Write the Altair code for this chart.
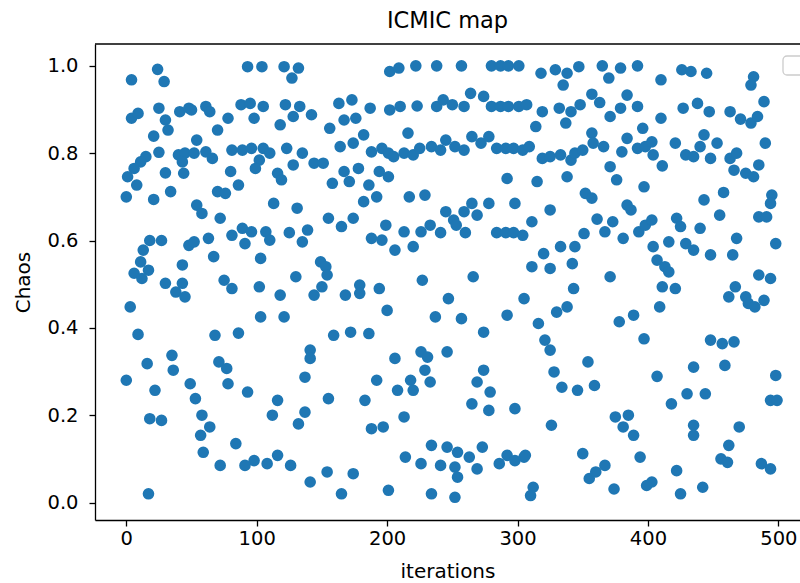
import altair as alt
import pandas as pd

# ICMIC chaotic map: iteration index and the value reached at that step
iterations = [
    4, 24, 29, 4, 9, 25, 30, 32, 21, 25, 15, 11, 6, 1, 8, 30, 0, 21, 34, 18, 27, 13, 11, 17, 6, 12, 30, 3, 9, 35, 36, 16, 0, 22, 18, 27, 17,
    41, 48, 50, 61, 64, 78, 88, 70, 54, 40, 45, 52, 43, 61, 66, 81, 89, 44, 80, 86, 70, 76, 54, 58, 72, 89, 81, 48, 52, 63, 67, 43, 43, 38, 45, 75, 81, 68, 86, 71, 77, 78, 49, 53, 58, 64, 57, 59, 84, 72,
    95, 104, 93, 121, 132, 127, 105, 98, 122, 133, 128, 118, 142, 96, 105, 110, 102, 99, 123, 135, 128, 144, 116, 119, 113, 131, 96, 91, 107, 110, 125, 139, 135, 103, 130, 102, 118, 103, 121, 141, 141, 137, 93, 116, 112, 137, 132, 98, 91, 108, 116, 126, 141,
    163, 173, 187, 156, 167, 176, 164, 174, 182, 188, 196, 201, 151, 167, 178, 158, 171, 186, 194, 192, 182, 155, 165, 174, 188, 196, 199, 149, 153, 154, 150, 144, 168, 179, 179, 194, 200, 159, 172, 186, 192, 155, 183, 188, 197, 154, 174, 165,
    202, 209, 222, 238, 202, 210, 223, 238, 243, 250, 216, 205, 213, 220, 225, 234, 241, 245, 252, 201, 217, 229, 206, 213, 220, 226, 233, 241, 245, 251, 253, 227, 237, 247, 206, 226, 231, 229, 233, 246, 208, 218, 220, 213, 234, 246, 254, 252, 214, 226, 241, 201, 234, 252,
    257, 280, 287, 293, 301, 259, 264, 274, 280, 287, 293, 301, 307, 259, 265, 272, 278, 284, 291, 297, 304, 309, 292, 265, 278, 269, 259, 260, 298, 284, 291, 297, 304, 266, 305, 257, 274, 292, 274, 269, 279, 265, 278, 298, 263, 269, 254, 273, 286, 292, 298, 305,
    318, 329, 338, 347, 335, 319, 314, 332, 341, 348, 337, 357, 363, 357, 319, 325, 333, 341, 344, 350, 358, 315, 338, 352, 357, 325, 311, 361, 351, 320, 333, 344, 342, 311, 325, 343, 330, 338, 316, 321, 325, 354, 328, 334, 346, 359, 326, 306, 350, 355, 360, 312, 310,
    365, 370, 379, 392, 410, 371, 379, 384, 392, 410, 366, 380, 384, 392, 398, 403, 404, 411, 396, 371, 376, 397, 384, 387, 373, 367, 381, 393, 398, 403, 404, 407, 413, 416, 416, 371, 411, 409, 378, 389, 397, 407, 418, 375, 385, 381, 389, 394, 367, 374, 403, 399,
    426, 433, 445, 427, 438, 447, 463, 471, 421, 429, 435, 440, 443, 453, 448, 463, 468, 466, 443, 458, 455, 422, 425, 440, 468, 429, 435, 448, 465, 421, 462, 467, 448, 457, 466, 435, 459, 430, 444, 435, 435, 470, 462, 456, 461, 422, 425, 442,
    481, 479, 489, 479, 484, 490, 475, 481, 485, 495, 494, 485, 491, 498, 485, 494, 475, 477, 482, 489, 498, 494, 499, 487, 494,
]

chaos = [
    0.968, 0.992, 0.964, 0.88, 0.891, 0.903, 0.876, 0.853, 0.839, 0.802, 0.792, 0.78, 0.765, 0.746, 0.727, 0.755, 0.70, 0.694, 0.712, 0.60, 0.60, 0.578, 0.551, 0.532, 0.525, 0.513, 0.502, 0.448, 0.385, 0.337, 0.303, 0.318, 0.28, 0.257, 0.192, 0.188, 0.02,
    0.895, 0.903, 0.899, 0.907, 0.895, 0.88, 0.911, 0.853, 0.83, 0.796, 0.80, 0.80, 0.78, 0.803, 0.788, 0.807, 0.807, 0.754, 0.758, 0.727, 0.712, 0.708, 0.681, 0.662, 0.651, 0.628, 0.612, 0.589, 0.597, 0.605, 0.563, 0.544, 0.502, 0.482, 0.471, 0.509, 0.49, 0.383, 0.388, 0.322, 0.307, 0.272, 0.272, 0.238, 0.2, 0.173, 0.154, 0.115, 0.135, 0.085,
    0.914, 0.998, 0.998, 0.998, 0.995, 0.972, 0.907, 0.88, 0.911, 0.907, 0.884, 0.865, 0.888, 0.811, 0.811, 0.80, 0.784, 0.765, 0.811, 0.80, 0.773, 0.777, 0.754, 0.739, 0.685, 0.674, 0.62, 0.593, 0.62, 0.601, 0.618, 0.624, 0.597, 0.559, 0.517, 0.494, 0.475, 0.425, 0.425, 0.349, 0.33, 0.287, 0.253, 0.234, 0.2, 0.207, 0.18, 0.096, 0.085, 0.089, 0.108, 0.085, 0.047,
    0.914, 0.922, 0.903, 0.857, 0.876, 0.88, 0.815, 0.823, 0.842, 0.803, 0.811, 0.80, 0.777, 0.758, 0.765, 0.731, 0.735, 0.727, 0.758, 0.70, 0.689, 0.651, 0.632, 0.651, 0.605, 0.601, 0.635, 0.551, 0.54, 0.521, 0.494, 0.475, 0.475, 0.498, 0.479, 0.49, 0.44, 0.383, 0.39, 0.387, 0.28, 0.238, 0.234, 0.169, 0.173, 0.07, 0.066, 0.02,
    0.987, 0.995, 1.0, 1.0, 0.899, 0.907, 0.908, 0.907, 0.922, 0.911, 0.846, 0.792, 0.80, 0.796, 0.811, 0.815, 0.807, 0.83, 0.815, 0.746, 0.70, 0.704, 0.578, 0.62, 0.586, 0.62, 0.635, 0.618, 0.666, 0.647, 0.635, 0.509, 0.425, 0.467, 0.33, 0.345, 0.333, 0.303, 0.276, 0.345, 0.257, 0.28, 0.257, 0.196, 0.131, 0.127, 0.115, 0.081, 0.104, 0.089, 0.085, 0.028, 0.02, 0.012,
    1.0, 1.0, 1.0, 1.0, 1.0, 0.907, 0.937, 0.93, 0.907, 0.907, 0.907, 0.907, 0.911, 0.807, 0.838, 0.823, 0.838, 0.811, 0.811, 0.811, 0.807, 0.815, 0.742, 0.685, 0.685, 0.658, 0.666, 0.618, 0.685, 0.618, 0.618, 0.618, 0.612, 0.517, 0.467, 0.421, 0.39, 0.429, 0.303, 0.276, 0.253, 0.226, 0.211, 0.215, 0.104, 0.077, 0.058, 0.127, 0.089, 0.108, 0.096, 0.104,
    0.983, 0.991, 0.983, 0.998, 0.956, 0.895, 0.861, 0.903, 0.895, 0.911, 0.869, 0.935, 0.916, 0.846, 0.788, 0.792, 0.796, 0.784, 0.80, 0.807, 0.823, 0.735, 0.746, 0.708, 0.697, 0.67, 0.643, 0.649, 0.616, 0.57, 0.586, 0.586, 0.547, 0.54, 0.536, 0.49, 0.436, 0.448, 0.41, 0.372, 0.349, 0.322, 0.299, 0.264, 0.257, 0.268, 0.177, 0.108, 0.112, 0.055, 0.07, 0.035, 0.016,
    1.0, 0.972, 0.995, 1.0, 0.968, 0.884, 0.903, 0.933, 0.907, 0.88, 0.815, 0.803, 0.834, 0.811, 0.815, 0.826, 0.796, 0.771, 0.857, 0.769, 0.739, 0.723, 0.681, 0.67, 0.643, 0.62, 0.605, 0.62, 0.635, 0.647, 0.586, 0.555, 0.54, 0.528, 0.597, 0.517, 0.494, 0.448, 0.414, 0.429, 0.375, 0.289, 0.226, 0.196, 0.2, 0.173, 0.154, 0.104, 0.085, 0.031, 0.047, 0.039,
    0.991, 0.987, 0.983, 0.903, 0.914, 0.895, 0.895, 0.878, 0.823, 0.796, 0.792, 0.815, 0.842, 0.823, 0.788, 0.788, 0.80, 0.761, 0.693, 0.71, 0.658, 0.651, 0.632, 0.628, 0.605, 0.593, 0.578, 0.567, 0.567, 0.49, 0.471, 0.494, 0.372, 0.364, 0.368, 0.31, 0.314, 0.249, 0.249, 0.177, 0.154, 0.173, 0.131, 0.1, 0.092, 0.073, 0.02, 0.035,
    0.975, 0.956, 0.918, 0.869, 0.884, 0.823, 0.754, 0.746, 0.773, 0.704, 0.685, 0.654, 0.654, 0.593, 0.521, 0.513, 0.471, 0.456, 0.448, 0.463, 0.291, 0.234, 0.234, 0.089, 0.077,
]

x_ticks = [0, 100, 200, 300, 400, 500]
y_ticks = [0.0, 0.2, 0.4, 0.6, 0.8, 1.0]

df = pd.DataFrame({"iterations": iterations, "chaos": chaos})

FONT = "DejaVu Sans"
W, H = 705, 476

points = alt.Chart(df).mark_circle(size=135, color="#1f77b4", opacity=1).encode(
    x=alt.X(
        "iterations:Q",
        scale=alt.Scale(domain=[-24, 516.6], nice=False, zero=False),
        axis=alt.Axis(values=x_ticks, title="iterations", labelPadding=3, titlePadding=14),
    ),
    y=alt.Y(
        "chaos:Q",
        scale=alt.Scale(domain=[-0.04, 1.05], nice=False, zero=False),
        axis=alt.Axis(values=y_ticks, format=".1f", title="Chaos", labelPadding=11, titlePadding=13),
    ),
)

one = pd.DataFrame({"k": [0]})

# upper edge of the axes frame
top_edge = alt.Chart(one).mark_rule(color="black", strokeWidth=1.3).encode(
    x=alt.value(0), x2=alt.value(W), y=alt.value(0)
)

# empty legend frame in the upper right corner
legend_box = alt.Chart(one).mark_rect(
    cornerRadius=4, fill="white", fillOpacity=0.8, stroke="#cccccc", strokeWidth=1.3
).encode(x=alt.value(688), x2=alt.value(718), y=alt.value(12), y2=alt.value(31))

chart = (
    alt.layer(points, top_edge, legend_box)
    .properties(
        width=W,
        height=H,
        padding={"left": 95, "top": 44, "right": 0, "bottom": 63},
        autosize=alt.AutoSizeParams(type="none"),
        title=alt.Title("ICMIC map", font=FONT, fontSize=22.5, fontWeight="normal", color="black", offset=11),
    )
    .configure_view(stroke=None)
    .configure_axis(
        grid=False,
        labelFont=FONT,
        labelFontSize=19.5,
        labelColor="black",
        titleFont=FONT,
        titleFontSize=20,
        titleFontWeight="normal",
        titleColor="black",
        domainColor="black",
        domainWidth=1.3,
        tickColor="black",
        tickWidth=1.3,
        tickSize=6,
    )
)

chart.save("out.html", embed_options={"renderer": "svg", "actions": False})
